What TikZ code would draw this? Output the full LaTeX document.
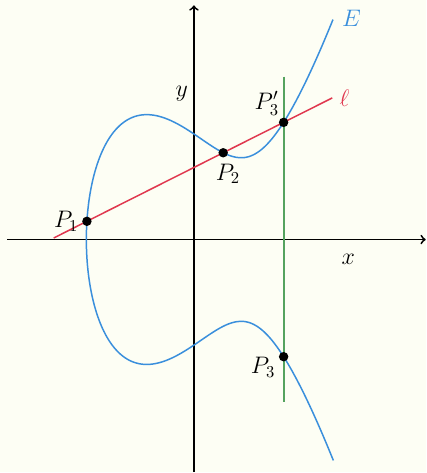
\documentclass[tikz,border=0pt]{standalone}
\usepackage{tikz}
\usetikzlibrary{positioning}
\definecolor{CurveBlue}{RGB}{58,143,220}
\definecolor{LineRed}{RGB}{224,56,79}
\definecolor{MirrorGreen}{RGB}{85,163,95}
\definecolor{Paper}{RGB}{253,254,244}
\tikzset{
  axisline/.style={->,line width=1.1pt},
  curve/.style={draw=CurveBlue,line width=0.9pt},
  secant/.style={draw=LineRed,line width=0.9pt},
  reflect/.style={draw=MirrorGreen,line width=1.1pt},
  dot/.style={circle,fill=black,inner sep=0pt,minimum size=0.2cm},
  lbl/.style={font=\Large}
}
\begin{document}
\begin{tikzpicture}
\fill[Paper] (-4.108,-4.926) rectangle (4.920,5.074);
\coordinate (xl) at (-3.95,0);
\coordinate (xr) at (4.91,0);
\coordinate (yb) at (0,-4.926);
\coordinate (yt) at (0,4.96);
\draw[axisline] (xl)--(xr);
\draw[axisline] (yb)--(yt);
\node[lbl] (xlab) at (3.27,-0.42) {$x$};
\node[lbl] (ylab) at (-0.26,3.1) {$y$};
\draw[curve] plot[domain=-2.2874:2.2874,samples=181,smooth,variable=\u] ({-2.27902+(\u)*(\u)},{(\u)*sqrt((-2.27902+(\u)*(\u))^2-2.27902*(-2.27902+(\u)*(\u))+2.19393)});
\coordinate (Etop) at (2.953,4.679);
\node[lbl,text=CurveBlue,right=0.06cm of Etop] (Elab) {$E$};
\coordinate (lA) at (-2.97,0.0326);
\coordinate (lB) at (2.93,3.0);
\draw[secant] (lA)--(lB);
\node[lbl,text=LineRed,right=0.03cm of lB] (llab) {$\ell$};
\coordinate (gA) at (1.9,3.45);
\coordinate (gB) at (1.9,-3.45);
\draw[reflect] (gA)--(gB);
\node[dot] (P1) at (-2.26709,0.3861) {};
\node[dot] (P2) at (0.62,1.83802) {};
\node[dot] (P3p) at (1.9,2.48173) {};
\node[dot] (P3) at (1.9,-2.48173) {};
\node[lbl,left=-0.05cm of P1] (P1lab) {$P_1$};
\node[lbl,below=0.0cm of P2,xshift=0.1cm] (P2lab) {$P_2$};
\node[lbl,above left=-0.05cm and -0.1cm of P3p] (P3plab) {$P_3'$};
\node[lbl,below left=-0.18cm and -0.02cm of P3] (P3lab) {$P_3$};
\end{tikzpicture}
\end{document}
